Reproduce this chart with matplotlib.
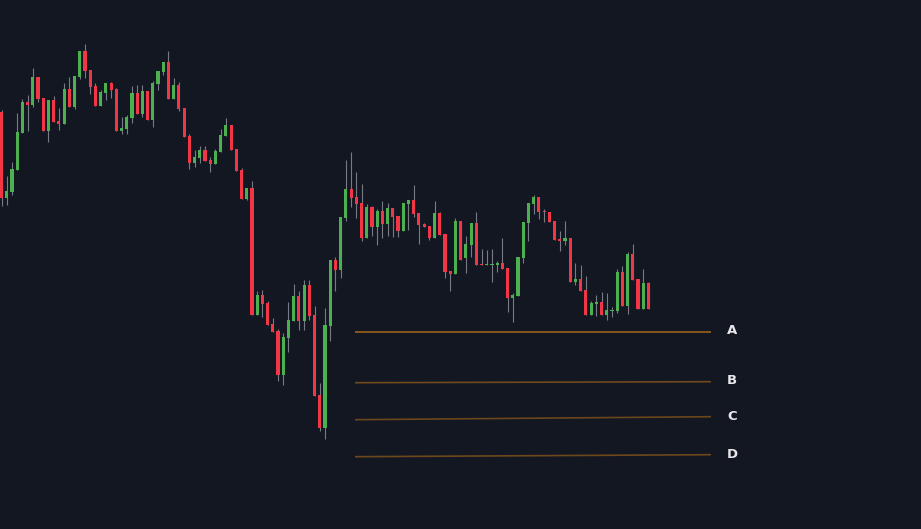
import numpy as np
import matplotlib.pyplot as plt

# candle data (price units), oldest first
opens = [417, 331, 337, 359, 396, 427, 424, 452, 431, 398, 429, 408, 405, 440, 422, 452, 478, 459, 443, 423,
         436, 446, 440, 398, 400, 411, 436, 415, 438, 409, 445, 457, 467, 430, 444, 421, 393, 366, 371, 379,
         369, 365, 377, 393, 404, 380, 359, 330, 341, 214, 234, 226, 205, 198, 154, 191, 208, 233, 208, 244,
         214, 134, 101, 203, 269, 259, 311, 340, 332, 326, 291, 322, 302, 318, 305, 321, 313, 298, 325, 329,
         316, 305, 303, 291, 316, 295, 258, 255, 308, 271, 284, 306, 265, 264, 264, 264, 266, 261, 231, 233,
         271, 306, 325, 332, 318, 317, 308, 290, 288, 291, 247, 250, 239, 214, 225, 227, 214, 218, 218, 257,
         223, 275, 250, 220, 246]
highs = [419, 353, 367, 416, 430, 434, 461, 452, 431, 429, 433, 421, 446, 452, 453, 478, 485, 459, 446, 439,
         446, 447, 441, 412, 414, 443, 444, 444, 438, 448, 458, 467, 478, 451, 447, 421, 395, 379, 383, 383,
         372, 380, 400, 411, 404, 380, 361, 341, 348, 238, 239, 228, 211, 200, 196, 227, 245, 238, 249, 249,
         223, 146, 221, 269, 272, 312, 369, 377, 357, 345, 325, 323, 320, 328, 326, 321, 313, 326, 329, 344,
         316, 306, 303, 328, 317, 295, 258, 311, 308, 293, 306, 317, 280, 279, 280, 268, 291, 261, 236, 272,
         307, 326, 334, 332, 320, 317, 308, 298, 308, 291, 266, 264, 253, 228, 234, 237, 236, 222, 260, 263,
         277, 285, 250, 260, 247]
lows = [323, 324, 334, 359, 396, 398, 422, 427, 398, 387, 407, 399, 405, 422, 420, 450, 451, 435, 423, 423,
        429, 431, 398, 395, 395, 406, 415, 412, 409, 402, 439, 454, 430, 430, 418, 392, 360, 362, 366, 368,
        357, 365, 377, 393, 379, 358, 330, 329, 214, 214, 212, 204, 197, 148, 144, 177, 208, 199, 199, 209,
        133, 98, 90, 188, 238, 251, 308, 322, 311, 288, 291, 293, 284, 291, 293, 292, 292, 298, 299, 312,
        285, 302, 289, 291, 294, 251, 238, 255, 269, 256, 272, 264, 264, 264, 247, 257, 260, 217, 207, 233,
        266, 288, 315, 310, 307, 307, 289, 278, 284, 247, 244, 238, 214, 214, 213, 214, 209, 212, 216, 223,
        215, 249, 220, 220, 220]
closes = [331, 338, 360, 397, 427, 424, 452, 430, 398, 429, 407, 405, 440, 422, 453, 478, 458, 442, 423, 437,
          446, 439, 398, 401, 412, 436, 415, 438, 409, 446, 458, 467, 430, 444, 420, 392, 366, 372, 379, 368,
          365, 378, 394, 404, 379, 358, 330, 341, 214, 234, 225, 204, 197, 154, 192, 209, 233, 208, 244, 213,
          133, 101, 204, 269, 259, 312, 340, 331, 325, 291, 322, 302, 318, 305, 321, 312, 298, 326, 329, 315,
          304, 302, 291, 316, 294, 257, 255, 308, 269, 285, 306, 264, 264, 265, 265, 266, 260, 231, 234, 272,
          307, 326, 332, 317, 317, 307, 289, 288, 291, 247, 250, 238, 214, 226, 227, 214, 219, 219, 257, 223,
          275, 249, 220, 246, 220]

# horizontal levels: label, start value, end value
level_names = ["A", "B", "C", "D"]
level_start = [197, 146.3, 109.3, 72.3]
level_end = [197, 147.3, 112.3, 74.3]
level_colors = ["#9a6219", "#70491c", "#6a461c", "#6e481b"]

bg = "#131722"
up_col = "#4caf50"
down_col = "#f23645"
wick_col = "#787b86"

o = np.array(opens, float)
h = np.array(highs, float)
l = np.array(lows, float)
c = np.array(closes, float)
x = np.arange(len(o))

fig = plt.figure(figsize=(9.21, 5.29), dpi=100, facecolor=bg)
ax = fig.add_axes([0, 0, 1, 1])
ax.set_facecolor(bg)

step = 647 / 124  # pixels per candle
ax.set_xlim(-1.5 / step, (921 - 1.5) / step)
ax.set_ylim(0, 529)

colors = np.where(c >= o, up_col, down_col)
ax.vlines(x, l, h, color=wick_col, linewidth=0.8, zorder=1)
bottom = np.minimum(o, c)
height = np.maximum(np.abs(c - o), 1.2)
ax.bar(x, height, bottom=bottom, width=0.6, color=colors, linewidth=0, zorder=2)

x0 = (355 - 1.5) / step
x1 = (711 - 1.5) / step
for name, ys, ye, col in zip(level_names, level_start, level_end, level_colors):
    ax.plot([x0, x1], [ys, ye], color=col, linewidth=1.2, solid_capstyle="butt", zorder=3)
    ax.text((732 - 1.5) / step, (ys + ye) / 2 + 1.5, name, color="#e8e8ec", fontsize=9.5,
            fontweight="bold", ha="center", va="center")

ax.axis("off")
fig.savefig("out.png", dpi=100, facecolor=bg)
